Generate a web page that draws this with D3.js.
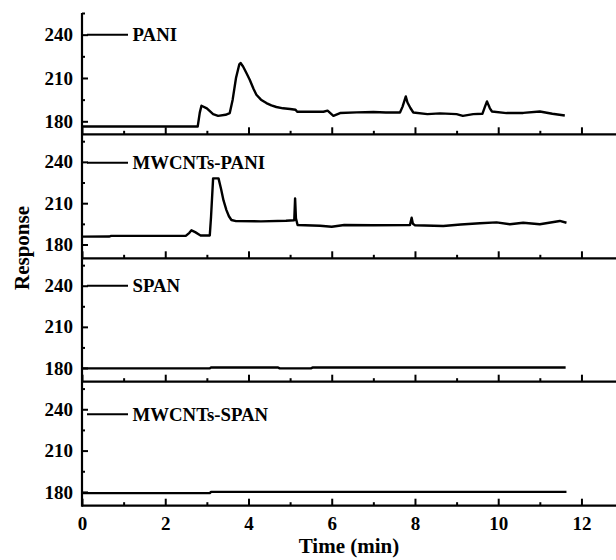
<!DOCTYPE html>
<html>
<head>
<meta charset="utf-8">
<script src="https://cdn.jsdelivr.net/npm/d3@7"></script>
<style>
  html, body { margin: 0; padding: 0; background: #fff; }
  svg { display: block; }
  text { font-family: "Liberation Serif", "Times New Roman", serif; font-weight: bold; fill: #000; }
</style>
</head>
<body>
<svg id="chart" width="616" height="560"></svg>
<script>
// Series names, top to bottom
const seriesNames = ["PANI", "MWCNTs-PANI", "SPAN", "MWCNTs-SPAN"];

// Response traces as [time (min), response]
const pani = [
  [0, 176.4], [2.78, 176.4], [2.83, 186], [2.87, 190.8], [3.0, 189], [3.15, 185],
  [3.27, 183.8], [3.45, 184.5], [3.55, 185.7], [3.62, 195], [3.7, 210], [3.78, 219.5],
  [3.81, 220.4], [3.87, 218], [3.95, 213.5], [4.03, 208.8], [4.12, 202.5], [4.19, 198.4],
  [4.3, 195], [4.43, 192.6], [4.55, 191], [4.67, 189.9], [4.83, 189], [5.0, 188.5],
  [5.13, 188], [5.17, 186.6], [5.8, 186.6], [5.9, 187.4], [6.04, 183.8], [6.2, 185.7],
  [6.6, 186.2], [7.0, 186.4], [7.3, 186.1], [7.64, 186.1], [7.7, 190], [7.78, 197.2],
  [7.82, 193], [7.89, 189.2], [7.96, 186.1], [8.3, 185], [8.6, 185.5], [9.0, 185],
  [9.15, 183.8], [9.4, 185], [9.62, 185.2], [9.68, 190], [9.73, 193.8], [9.8, 189],
  [9.85, 186.8], [10.2, 185.7], [10.6, 185.8], [11.0, 186.8], [11.3, 185.2], [11.6, 184]
];
const mwcntsPani = [
  [0, 185.7], [0.65, 185.8], [0.7, 186.3], [1.5, 186.3], [2.5, 186.4], [2.58, 188.5],
  [2.63, 190.3], [2.72, 189], [2.8, 187.5], [2.85, 186.6], [3.07, 186.6], [3.1, 200],
  [3.15, 228], [3.28, 228], [3.34, 220.5], [3.4, 212], [3.47, 205], [3.53, 200.5],
  [3.59, 197.8], [3.7, 197], [4.3, 196.8], [4.9, 197.3], [5.1, 197.6], [5.12, 213.5],
  [5.14, 199], [5.18, 194.2], [5.72, 193.6], [6.0, 192.9], [6.3, 194.2], [7.0, 194],
  [7.88, 194.2], [7.92, 199.4], [7.95, 195], [8.0, 194], [8.68, 193.4], [9.1, 194.5],
  [9.56, 195.4], [9.96, 196.1], [10.28, 194.7], [10.6, 195.8], [11.0, 194.7],
  [11.48, 197.1], [11.64, 195.8]
];
const span = [
  [0, 179.7], [3.07, 179.7], [3.1, 180.4], [4.71, 180.4], [4.75, 179.7],
  [5.5, 179.7], [5.55, 180.4], [11.62, 180.4]
];
const mwcntsSpan = [
  [0, 179.1], [3.07, 179.1], [3.1, 180], [11.64, 180]
];

// Axis ticks
const xMajorTicks = [0, 2, 4, 6, 8, 10, 12];
const xMinorTicks = [1, 3, 5, 7, 9, 11];
const yMajorTicks = [180, 210, 240];
const yMinorTicks = [195, 225, 255];

const traces = [pani, mwcntsPani, span, mwcntsSpan];

const svg = d3.select("#chart");
const left = 82, right = 616;
const x = d3.scaleLinear().domain([0, 12.83]).range([left, right]);

// Stacked panels: [top, bottom] pixel extents and response domains
const panels = [
  { top: 13, bottom: 134.3, domain: [171, 255], legendAt: 240 },
  { top: 134.3, bottom: 258.3, domain: [170, 260], legendAt: 239.4 },
  { top: 258.3, bottom: 381.7, domain: [170, 260], legendAt: 240 },
  { top: 381.7, bottom: 505.7, domain: [170, 260], legendAt: 236.3 }
];

const tickFont = "19px";

panels.forEach((p, i) => {
  const y = d3.scaleLinear().domain(p.domain).range([p.bottom, p.top]);
  const g = svg.append("g");

  // data trace
  const line = d3.line().x(d => x(d[0])).y(d => y(d[1]));
  g.append("path")
    .datum(traces[i])
    .attr("d", line)
    .attr("fill", "none")
    .attr("stroke", "#000")
    .attr("stroke-width", 2.4)
    .attr("stroke-linejoin", "round");

  // left axis, inward ticks
  const yAxis = g.append("g").attr("transform", `translate(${left},0)`)
    .call(d3.axisLeft(y).tickValues(yMajorTicks).tickSize(-6).tickPadding(9).tickFormat(d3.format("d")));
  yAxis.select(".domain").remove();
  yAxis.selectAll("line").attr("stroke-width", 2);
  yAxis.selectAll("text").style("font-size", tickFont);

  const yMinor = g.append("g").attr("transform", `translate(${left},0)`)
    .call(d3.axisLeft(y).tickValues(yMinorTicks).tickSize(-3).tickFormat(""));
  yMinor.select(".domain").remove();
  yMinor.selectAll("line").attr("stroke-width", 2);

  // bottom axis of each panel, inward ticks
  const xAxis = g.append("g").attr("transform", `translate(0,${p.bottom})`)
    .call(d3.axisBottom(x).tickValues(xMajorTicks).tickSize(-7).tickPadding(11)
      .tickFormat(i === panels.length - 1 ? d3.format("d") : ""));
  xAxis.select(".domain").attr("stroke-width", 2.2).attr("d", `M${left},0H${right}`);
  xAxis.selectAll("line").attr("stroke-width", 2);
  xAxis.selectAll("text").style("font-size", tickFont);

  const xMinor = g.append("g").attr("transform", `translate(0,${p.bottom})`)
    .call(d3.axisBottom(x).tickValues(xMinorTicks).tickSize(-3.5).tickFormat(""));
  xMinor.select(".domain").remove();
  xMinor.selectAll("line").attr("stroke-width", 2);

  // legend entry
  const ly = y(p.legendAt);
  g.append("line")
    .attr("x1", 87).attr("x2", 128)
    .attr("y1", ly).attr("y2", ly)
    .attr("stroke", "#000").attr("stroke-width", 2);
  g.append("text")
    .attr("x", 132.5).attr("y", ly)
    .attr("dy", "0.35em")
    .style("font-size", "18.8px")
    .text(seriesNames[i]);
});

// shared left axis line
svg.append("line")
  .attr("x1", left).attr("x2", left)
  .attr("y1", panels[0].top).attr("y2", panels[panels.length - 1].bottom + 1)
  .attr("stroke", "#000").attr("stroke-width", 2.2);

// axis titles
svg.append("text")
  .attr("x", (left + right) / 2).attr("y", 553)
  .attr("text-anchor", "middle")
  .style("font-size", "21px")
  .text("Time (min)");

svg.append("text")
  .attr("transform", "translate(29,248) rotate(-90)")
  .attr("text-anchor", "middle")
  .style("font-size", "21px")
  .text("Response");
</script>
</body>
</html>
